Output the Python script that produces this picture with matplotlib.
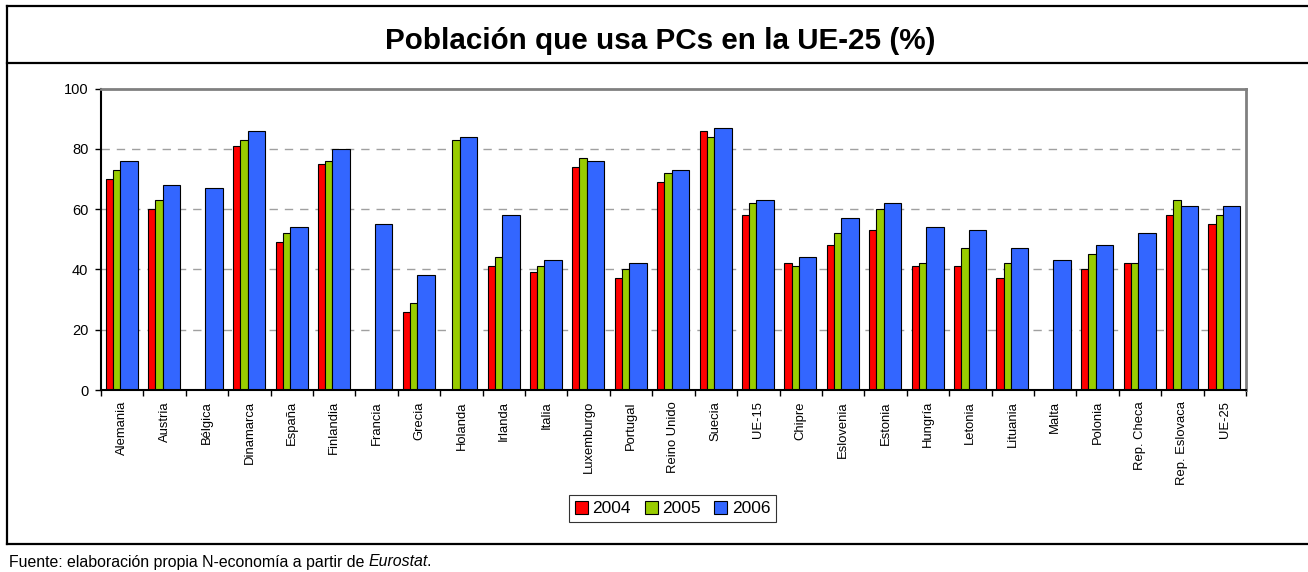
import numpy as np
import matplotlib
matplotlib.use("Agg")
import matplotlib.pyplot as plt
from matplotlib.lines import Line2D
from matplotlib.patches import Patch

plt.rcParams['font.family'] = ['Liberation Sans', 'DejaVu Sans']

categories = ["Alemania", "Austria", "Bélgica", "Dinamarca", "España", "Finlandia",
              "Francia", "Grecia", "Holanda", "Irlanda", "Italia", "Luxemburgo",
              "Portugal", "Reino Unido", "Suecia", "UE-15", "Chipre", "Eslovenia",
              "Estonia", "Hungría", "Letonia", "Lituania", "Malta", "Polonia",
              "Rep. Checa", "Rep. Eslovaca", "UE-25"]
nan = np.nan
v2004 = [70, 60, nan, 81, 49, 75, nan, 26, nan, 41, 39, 74, 37, 69, 86, 58,
         42, 48, 53, 41, 41, 37, nan, 40, 42, 58, 55]
v2005 = [73, 63, nan, 83, 52, 76, nan, 29, 83, 44, 41, 77, 40, 72, 84, 62,
         41, 52, 60, 42, 47, 42, nan, 45, 42, 63, 58]
v2006 = [76, 68, 67, 86, 54, 80, 55, 38, 84, 58, 43, 76, 42, 73, 87, 63,
         44, 57, 62, 54, 53, 47, 43, 48, 52, 61, 61]
series_names = ["2004", "2005", "2006"]
colors = ["#FF0000", "#99CC00", "#3366FF"]
yticks = [0, 20, 40, 60, 80, 100]

W, H = 1308, 572
fig = plt.figure(figsize=(W / 100, H / 100), dpi=100)

def fx(x): return x / W
def fy(y): return 1 - y / H
lw_frame = 1.6
for (x0, y0, x1, y1) in [(7, 6, W, 6), (7, 63, W, 63), (7, 544, W, 544), (7, 6, 7, 544)]:
    fig.add_artist(Line2D([fx(x0), fx(x1)], [fy(y0), fy(y1)], color='black',
                          lw=lw_frame, transform=fig.transFigure, solid_capstyle='projecting'))

fig.text(fx(660), fy(41), "Población que usa PCs en la UE-25 (%)", ha='center', va='center',
         fontsize=21.3, fontweight='bold')

ax = fig.add_axes([fx(101), fy(390), fx(1246) - fx(101), fy(88.5) - fy(390)])
x = np.arange(len(categories))
offsets = [(-0.385, 0.168), (-0.217, 0.174), (-0.043, 0.413)]
for vals, col, (off, w), name in zip([v2004, v2005, v2006], colors, offsets, series_names):
    vals = np.array(vals, dtype=float)
    m = ~np.isnan(vals)
    ax.bar(x[m] + off, vals[m], width=w, align='edge', color=col, edgecolor='black',
           linewidth=0.8, zorder=3, label=name)

ax.set_xlim(-0.5, len(categories) - 0.5)
ax.set_ylim(0, 100)
ax.set_yticks(yticks)
ax.tick_params(axis='y', labelsize=10.5, length=4, width=1, pad=5, direction='out')
ax.set_xticks(x)
ax.set_xticklabels(categories, rotation=90, fontsize=9.4)
ax.tick_params(axis='x', which='major', length=0, pad=8)
ax.set_xticks(np.arange(-0.5, len(categories), 1), minor=True)
ax.tick_params(axis='x', which='minor', length=4, width=1, direction='out')

for yv in [20, 40, 60, 80]:
    ax.axhline(yv, color='#A0A0A0', lw=1, ls=(0, (6, 5)), zorder=1)

ax.spines['left'].set_linewidth(1.5)
ax.spines['bottom'].set_linewidth(1.5)
ax.spines['bottom'].set_zorder(4)
for s in ['top', 'right']:
    ax.spines[s].set_color('#808080')
    ax.spines[s].set_linewidth(2)

handles = [Patch(facecolor=c, edgecolor='black', linewidth=0.8) for c in colors]
leg = fig.legend(handles, series_names, loc='center', bbox_to_anchor=(fx(672.5), fy(508.5)),
                 ncol=3, fontsize=12.5, frameon=True, fancybox=False, edgecolor='black',
                 handlelength=0.75, handleheight=0.75, handletextpad=0.25,
                 columnspacing=0.8, borderpad=0.35, borderaxespad=0)
leg.get_frame().set_linewidth(0.8)

fy_foot = fy(562)
t1 = fig.text(fx(9), fy_foot, "Fuente: elaboración propia N-economía a partir de ",
              ha='left', va='center', fontsize=11.4)
fig.canvas.draw()
r = fig.canvas.get_renderer()
bb = t1.get_window_extent(renderer=r)
t2 = fig.text(bb.x1 / W, fy_foot, "Eurostat", ha='left', va='center', fontsize=11.4, style='italic')
bb2 = t2.get_window_extent(renderer=r)
fig.text((bb2.x1 - 2) / W, fy_foot, ".", ha='left', va='center', fontsize=11.4)

fig.savefig("out.png", dpi=100)
